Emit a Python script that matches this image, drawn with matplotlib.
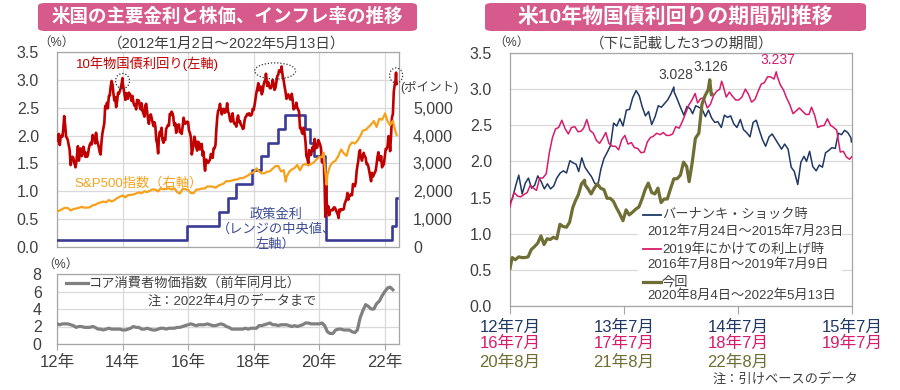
import numpy as np
import pandas as pd
import matplotlib
matplotlib.use('Agg')
import matplotlib.pyplot as plt
import matplotlib.dates as mdates
import matplotlib.transforms as mtransforms
from matplotlib.patches import Ellipse, FancyBboxPatch, Rectangle
from matplotlib.lines import Line2D

plt.rcParams['font.family'] = ['Liberation Sans', 'Noto Sans CJK JP', 'DejaVu Sans']

# ---------------- DATA ----------------
# US 10y yield, three readings per month (around day 1, 11, 21)
y10_2012 = [1.97, 1.90, 2.03, 1.83, 1.98, 2.00, 1.98, 2.12, 2.35, 2.19, 1.98, 1.96,
            1.91, 1.83, 1.74, 1.47, 1.59, 1.62, 1.60, 1.50, 1.47, 1.49, 1.66, 1.81,
            1.55, 1.70, 1.77, 1.63, 1.67, 1.80, 1.72, 1.62, 1.69, 1.62, 1.66, 1.77]
y10_2013 = [1.84, 1.87, 1.84, 2.01, 1.98, 1.96, 1.86, 2.05, 1.92, 1.85, 1.79, 1.70,
            1.66, 1.89, 2.04, 2.13, 2.22, 2.53, 2.49, 2.59, 2.49, 2.71, 2.72, 2.88,
            2.98, 2.91, 2.75, 2.63, 2.69, 2.51, 2.62, 2.77, 2.75, 2.80, 2.85, 2.93]
y10_2014 = [2.96, 2.86, 2.75, 2.64, 2.76, 2.73, 2.66, 2.77, 2.75, 2.72, 2.62, 2.71,
            2.60, 2.54, 2.55, 2.47, 2.64, 2.61, 2.63, 2.52, 2.47, 2.58, 2.44, 2.40,
            2.34, 2.54, 2.57, 2.43, 2.30, 2.21, 2.34, 2.38, 2.31, 2.24, 2.17, 2.24]
y10_2015 = [2.17, 1.92, 1.86, 1.68, 1.99, 2.07, 2.00, 2.14, 1.93, 1.87, 1.95, 1.92,
            2.12, 2.15, 2.19, 2.18, 2.39, 2.37, 2.43, 2.40, 2.33, 2.18, 2.22, 2.05,
            2.17, 2.19, 2.20, 2.06, 2.09, 2.03, 2.16, 2.32, 2.25, 2.21, 2.24, 2.25]
y10_2016 = [2.24, 2.09, 2.05, 1.97, 1.66, 1.75, 1.83, 1.98, 1.92, 1.79, 1.73, 1.89,
            1.87, 1.75, 1.83, 1.85, 1.64, 1.71, 1.46, 1.43, 1.57, 1.52, 1.51, 1.54,
            1.57, 1.67, 1.63, 1.60, 1.77, 1.77, 1.83, 2.12, 2.33, 2.45, 2.47, 2.57]
y10_2017 = [2.45, 2.38, 2.47, 2.48, 2.41, 2.42, 2.46, 2.58, 2.43, 2.39, 2.29, 2.25,
            2.32, 2.40, 2.25, 2.21, 2.21, 2.16, 2.30, 2.36, 2.24, 2.26, 2.19, 2.18,
            2.12, 2.13, 2.27, 2.33, 2.35, 2.39, 2.37, 2.40, 2.36, 2.36, 2.38, 2.48]
y10_2018 = [2.46, 2.55, 2.66, 2.78, 2.85, 2.94, 2.81, 2.87, 2.88, 2.74, 2.79, 2.91,
            2.97, 3.00, 3.06, 2.89, 2.96, 2.90, 2.85, 2.85, 2.89, 3.00, 2.93, 2.82,
            2.86, 2.97, 3.07, 3.09, 3.17, 3.17, 3.14, 3.18, 3.06, 2.99, 2.88, 2.79]
y10_2019 = [2.66, 2.70, 2.74, 2.69, 2.65, 2.65, 2.75, 2.64, 2.47, 2.49, 2.50, 2.59,
            2.50, 2.47, 2.43, 2.13, 2.14, 2.06, 2.03, 2.14, 2.05, 1.89, 1.63, 1.59,
            1.50, 1.74, 1.72, 1.65, 1.73, 1.80, 1.73, 1.94, 1.77, 1.78, 1.79, 1.92]
y10_2020 = [1.88, 1.84, 1.77, 1.52, 1.59, 1.52, 1.13, 0.82, 0.92, 0.62, 0.73, 0.57,
            0.64, 0.66, 0.67, 0.66, 0.71, 0.71, 0.68, 0.64, 0.60, 0.55, 0.67, 0.64,
            0.68, 0.67, 0.67, 0.68, 0.78, 0.82, 0.87, 0.97, 0.85, 0.93, 0.92, 0.95]
y10_2021 = [0.93, 1.13, 1.10, 1.09, 1.16, 1.36, 1.45, 1.54, 1.69, 1.68, 1.62, 1.55,
            1.63, 1.69, 1.63, 1.61, 1.49, 1.49, 1.45, 1.36, 1.28, 1.18, 1.33, 1.26,
            1.30, 1.34, 1.37, 1.48, 1.61, 1.70, 1.57, 1.55, 1.63, 1.43, 1.48, 1.48]
y10_2022 = [1.63, 1.76, 1.76, 1.81, 1.99, 1.93, 1.72, 1.99, 2.32, 2.39, 2.79, 2.91,
            2.99, 2.92]
y10_extra_dates = ['2012-07-24', '2013-12-31', '2015-07-23', '2016-07-08', '2018-05-17',
                   '2018-11-08', '2019-07-09', '2020-03-09', '2020-03-18', '2020-08-04',
                   '2021-03-31', '2022-05-06', '2022-05-13']
y10_extra_vals = [1.43, 3.03, 2.27, 1.37, 3.11, 3.24, 2.07, 0.54, 1.18, 0.52, 1.74, 3.13, 2.93]

# S&P500, value at start of each month
sp_2012 = [1277, 1312, 1366, 1408, 1398, 1310, 1362, 1379, 1407, 1441, 1412, 1416]
sp_2013 = [1426, 1498, 1515, 1569, 1598, 1631, 1606, 1686, 1633, 1682, 1757, 1806]
sp_2014 = [1848, 1783, 1859, 1872, 1884, 1924, 1960, 1931, 2003, 1972, 2018, 2068]
sp_2015 = [2059, 1995, 2105, 2068, 2086, 2107, 2063, 2104, 1972, 1920, 2079, 2080]
sp_2016 = [2044, 1940, 1932, 2060, 2065, 2097, 2099, 2174, 2171, 2168, 2126, 2199]
sp_2017 = [2239, 2279, 2364, 2363, 2384, 2412, 2423, 2470, 2472, 2519, 2575, 2648]
sp_2018 = [2674, 2824, 2714, 2641, 2648, 2705, 2718, 2816, 2902, 2914, 2712, 2760]
sp_2019 = [2507, 2704, 2784, 2834, 2946, 2752, 2942, 2980, 2926, 2977, 3038, 3141]
sp_2020 = [3231, 3226, 2954, 2585, 2912, 3044, 3100, 3271, 3500, 3363, 3270, 3622]
sp_2021 = [3756, 3714, 3811, 3973, 4181, 4204, 4298, 4395, 4523, 4308, 4605, 4567]
sp_2022 = [4766, 4516, 4374, 4530, 4132]
sp_extra_dates = ['2018-12-24', '2020-02-19', '2020-03-23', '2022-01-03', '2022-05-13']
sp_extra_vals = [2351, 3386, 2237, 4797, 4023]

# Fed funds target range midpoint (change dates)
fed_dates = ['2012-01-02', '2015-12-17', '2016-12-15', '2017-03-16', '2017-06-15',
             '2017-12-14', '2018-03-22', '2018-06-14', '2018-09-27', '2018-12-20',
             '2019-08-01', '2019-09-19', '2019-10-31', '2020-03-04', '2020-03-16',
             '2022-03-17', '2022-05-05', '2022-05-13']
fed_vals = [0.125, 0.375, 0.625, 0.875, 1.125, 1.375, 1.625, 1.875, 2.125, 2.375,
            2.125, 1.875, 1.625, 1.125, 0.125, 0.375, 0.875, 0.875]

# Core CPI YoY, monthly
cpi_2012 = [2.3, 2.2, 2.3, 2.3, 2.3, 2.2, 2.1, 1.9, 2.0, 2.0, 1.9, 1.9]
cpi_2013 = [1.9, 2.0, 1.9, 1.7, 1.7, 1.6, 1.7, 1.8, 1.7, 1.7, 1.7, 1.7]
cpi_2014 = [1.6, 1.6, 1.7, 1.8, 2.0, 1.9, 1.9, 1.7, 1.7, 1.8, 1.7, 1.6]
cpi_2015 = [1.6, 1.7, 1.8, 1.8, 1.7, 1.8, 1.8, 1.8, 1.9, 1.9, 2.0, 2.1]
cpi_2016 = [2.2, 2.3, 2.2, 2.1, 2.2, 2.2, 2.2, 2.3, 2.2, 2.1, 2.1, 2.2]
cpi_2017 = [2.3, 2.2, 2.0, 1.9, 1.7, 1.7, 1.7, 1.7, 1.7, 1.8, 1.7, 1.8]
cpi_2018 = [1.8, 1.8, 2.1, 2.1, 2.2, 2.3, 2.4, 2.2, 2.2, 2.1, 2.2, 2.2]
cpi_2019 = [2.2, 2.1, 2.0, 2.1, 2.0, 2.1, 2.2, 2.4, 2.4, 2.3, 2.3, 2.3]
cpi_2020 = [2.3, 2.4, 2.1, 1.4, 1.2, 1.2, 1.6, 1.7, 1.7, 1.6, 1.6, 1.6]
cpi_2021 = [1.4, 1.3, 1.6, 3.0, 3.8, 4.5, 4.3, 4.0, 4.0, 4.6, 4.9, 5.5]
cpi_2022 = [6.0, 6.4, 6.5, 6.2]

# Right chart periods
period_names = ['バーナンキ・ショック時', '2019年にかけての利上げ時', '今回']
period_ranges = ['2012年7月24日～2015年7月23日', '2016年7月8日～2019年7月9日', '2020年8月4日～2022年5月13日']
period_starts = ['2012-07-24', '2016-07-08', '2020-08-04']
period_ends = ['2015-07-23', '2019-07-09', '2022-05-13']
peak_labels = ['3.028', '3.237', '3.126']
xt_labels_a = ['12年7月', '13年7月', '14年7月', '15年7月']
xt_labels_b = ['16年7月', '17年7月', '18年7月', '19年7月']
xt_labels_c = ['20年8月', '21年8月', '22年8月']
left_year_labels = ['12年', '14年', '16年', '18年', '20年', '22年']

# ---------------- BUILD SERIES ----------------
years = list(range(2012, 2023))
y10_dates, y10_vals = [], []
for yr, arr in zip(years, [y10_2012, y10_2013, y10_2014, y10_2015, y10_2016, y10_2017,
                           y10_2018, y10_2019, y10_2020, y10_2021, y10_2022]):
    for i, v in enumerate(arr):
        y10_dates.append(pd.Timestamp(yr, i // 3 + 1, [1, 11, 21][i % 3]))
        y10_vals.append(v)
y10 = pd.concat([pd.Series(y10_vals, index=y10_dates),
                 pd.Series(y10_extra_vals, index=pd.to_datetime(y10_extra_dates))]).sort_index()

sp_dates, sp_vals = [], []
for yr, arr in zip(years, [sp_2012, sp_2013, sp_2014, sp_2015, sp_2016, sp_2017,
                           sp_2018, sp_2019, sp_2020, sp_2021, sp_2022]):
    for i, v in enumerate(arr):
        sp_dates.append(pd.Timestamp(yr, i + 1, 1))
        sp_vals.append(v)
sp = pd.concat([pd.Series(sp_vals, index=sp_dates),
                pd.Series(sp_extra_vals, index=pd.to_datetime(sp_extra_dates))]).sort_index()

cpi_dates, cpi_vals = [], []
for yr, arr in zip(years, [cpi_2012, cpi_2013, cpi_2014, cpi_2015, cpi_2016, cpi_2017,
                           cpi_2018, cpi_2019, cpi_2020, cpi_2021, cpi_2022]):
    for i, v in enumerate(arr):
        cpi_dates.append(pd.Timestamp(yr, i + 1, 1))
        cpi_vals.append(v)

# ---------------- STYLE ----------------
C_RED = '#c00000'
C_ORANGE = '#f7a11a'
C_FED = '#3b3b96'
C_CPI = '#808080'
C_NAVY = '#1f3864'
C_PINK = '#d81b6a'
C_OLIVE = '#6e6e35'
C_TXT = '#404040'
C_GRID = '#d9d9d9'
C_SPINE = '#a6a6a6'
C_TITLE = '#d65a8c'

W, H = 900, 390
def fx(x):
    return x / W
def fy(y):
    return 1 - y / H

fig = plt.figure(figsize=(9, 3.9), dpi=100)

def style_frame(ax):
    for s in ax.spines.values():
        s.set_color(C_SPINE)
        s.set_linewidth(0.9)
    ax.tick_params(colors=C_TXT, labelsize=11.5, length=0)
    ax.tick_params(axis='y', pad=13)

# ---------- Titles ----------
for (x0, x1, title, tx, fs) in [(38, 417, '米国の主要金利と株価、インフレ率の推移', 227, 13.3),
                                 (485, 866, '米10年物国債利回りの期間別推移', 675, 15)]:
    fig.patches.append(FancyBboxPatch((fx(x0), fy(31)), fx(x1 - x0), 28 / H,
                                      boxstyle='round,pad=0,rounding_size=0.008',
                                      transform=fig.transFigure, fc=C_TITLE, ec='none'))
    fig.text(fx(tx), fy(17), title, ha='center', va='center', color='white',
             fontsize=fs, fontweight='bold')

fig.text(fx(227), fy(44), '（2012年1月2日～2022年5月13日）', ha='center', va='center',
         color=C_TXT, fontsize=10.5)
fig.text(fx(682), fy(44), '（下に記載した3つの期間）', ha='center', va='center',
         color=C_TXT, fontsize=10.5)

# ---------- Left top ----------
axL = fig.add_axes([fx(57), fy(247), fx(342), 195 / H])
style_frame(axL)
xmin, xmax = pd.Timestamp('2012-01-01'), pd.Timestamp('2022-06-08')
axL.set_xlim(xmin, xmax)
axL.set_ylim(0, 3.5)
axL.set_yticks(np.arange(0, 3.51, 0.5))
axL.set_yticklabels([f'{v:.1f}' for v in np.arange(0, 3.51, 0.5)])
year_ticks = [pd.Timestamp(y, 1, 1) for y in range(2012, 2023, 2)]
axL.set_xticks(year_ticks)
axL.set_xticklabels([])
axL.grid(True, color=C_GRID, lw=0.9)
axL.set_axisbelow(True)
axL.plot(pd.to_datetime(fed_dates), fed_vals, drawstyle='steps-post', color=C_FED, lw=1.9, zorder=3)
axL.plot(y10.index, y10.values, color=C_RED, lw=1.9, zorder=4)

axL2 = axL.twinx()
axL2.set_ylim(0, 7000)
axL2.set_yticks(np.arange(0, 5001, 1000))
axL2.set_yticklabels([f'{v:,}' for v in range(0, 5001, 1000)])
axL2.tick_params(colors=C_TXT, labelsize=11.5, length=0, pad=10)
for s in axL2.spines.values():
    s.set_visible(False)
axL2.plot(sp.index, sp.values, color=C_ORANGE, lw=1.6, zorder=3)

# dotted ellipses around peaks
for (d, v, w, h) in [('2013-12-31', 2.98, 156, 0.27), ('2018-08-28', 3.16, 456, 0.29),
                     ('2022-05-07', 3.08, 145, 0.27)]:
    axL.add_patch(Ellipse((mdates.date2num(pd.Timestamp(d)), v), w, h, fill=False,
                          ls=(0, (1, 1.5)), ec='#333333', lw=0.9, clip_on=False, zorder=6))

fig.text(fx(147), fy(64), '10年物国債利回り(左軸)', ha='center', va='center', color=C_RED, fontsize=9.5)
fig.text(fx(139), fy(183), 'S&P500指数（右軸）', ha='center', va='center', color=C_ORANGE, fontsize=9.5)
fig.text(fx(276), fy(229), '政策金利\n（レンジの中央値、\n左軸）', ha='center', va='center',
         color='#3c4a96', fontsize=9.5, linespacing=1.25)
fig.text(fx(400), fy(88), '(ポイント)', ha='left', va='center', color=C_TXT, fontsize=9)
fig.text(fx(38), fy(43), '（%）', ha='left', va='center', color=C_TXT, fontsize=9)

# ---------- Left bottom (CPI) ----------
axC = fig.add_axes([fx(57), fy(344), fx(342), 70 / H])
style_frame(axC)
axC.set_xlim(xmin, xmax)
axC.set_ylim(0, 8)
axC.set_yticks([0, 2, 4, 6, 8])
axC.tick_params(axis='y', pad=11)
axC.set_xticks(year_ticks)
axC.set_xticklabels(left_year_labels)
axC.tick_params(axis='x', length=4, direction='out', color=C_SPINE, labelsize=12, pad=4)
axC.grid(True, color=C_GRID, lw=0.9)
axC.set_axisbelow(True)
axC.plot(cpi_dates, cpi_vals, color=C_CPI, lw=2.3, zorder=3)
fig.text(fx(42), fy(265), '（%）', ha='left', va='center', color=C_TXT, fontsize=9)
fig.add_artist(Line2D([fx(66), fx(88)], [fy(283)] * 2, color=C_CPI, lw=2.3, transform=fig.transFigure))
fig.text(fx(89), fy(283), 'コア消費者物価指数（前年同月比）', ha='left', va='center', color=C_TXT, fontsize=9.5)
fig.text(fx(148), fy(301), '注：2022年4月のデータまで', ha='left', va='center', color=C_TXT, fontsize=9.5)

# ---------- Right chart ----------
axR = fig.add_axes([fx(510), fy(306), fx(342), 253 / H])
style_frame(axR)
axR.set_xlim(0, 3)
axR.set_ylim(0, 3.5)
axR.set_yticks(np.arange(0, 3.51, 0.5))
axR.set_yticklabels([f'{v:.1f}' for v in np.arange(0, 3.51, 0.5)])
axR.set_xticks([0, 1, 2, 3])
axR.set_xticklabels([])
axR.tick_params(axis='x', length=6, direction='out', color=C_SPINE)
axR.grid(True, axis='y', color=C_GRID, lw=0.9)
axR.set_axisbelow(True)

colors_r = [C_NAVY, C_PINK, C_OLIVE]
widths_r = [1.1, 1.1, 2.3]
for st, en, c, lw in zip(period_starts, period_ends, colors_r, widths_r):
    s = y10[(y10.index >= pd.Timestamp(st)) & (y10.index <= pd.Timestamp(en))]
    xx = (s.index - pd.Timestamp(st)).days / 365.25
    axR.plot(xx, s.values, color=c, lw=lw, zorder=3)

# peak labels
fig.text(fx(676), fy(75), peak_labels[0], ha='center', va='center', color=C_TXT, fontsize=10)
fig.text(fx(711), fy(67), peak_labels[2], ha='center', va='center', color=C_TXT, fontsize=10)
fig.text(fx(778), fy(60), peak_labels[1], ha='center', va='center', color=C_PINK, fontsize=10)

# legend box
axR.add_patch(Rectangle(((638 - 510) / 342, 3 / 253), (842 - 638) / 342, 98 / 253,
                        transform=axR.transAxes, fc='white', ec='none', zorder=1.8))
leg_y = [(215, 232), (249, 265), (282, 296)]
for (yl, yr2), c, lw, nm, rg in zip(leg_y, colors_r, widths_r, period_names, period_ranges):
    fig.add_artist(Line2D([fx(643), fx(661)], [fy(yl)] * 2, color=c, lw=max(lw, 1.3),
                          transform=fig.transFigure))
    fig.text(fx(662), fy(yl), nm, ha='left', va='center', color=C_TXT, fontsize=9.5)
    fig.text(fx(647), fy(yr2), rg, ha='left', va='center', color=C_TXT, fontsize=9.5)

fig.text(fx(493), fy(43), '（%）', ha='left', va='center', color=C_TXT, fontsize=9)

# multi-colour x tick labels
tr = mtransforms.blended_transform_factory(axR.transData, fig.transFigure)
for labs, c, yy in [(xt_labels_a, C_NAVY, 327), (xt_labels_b, C_PINK, 343), (xt_labels_c, C_OLIVE, 362)]:
    for i, lab in enumerate(labs):
        axR.text(i, fy(yy), lab, transform=tr, ha='center', va='center', color=c, fontsize=12)
fig.text(fx(713), fy(379), '注：引けベースのデータ', ha='left', va='center', color=C_TXT, fontsize=9.5)

fig.savefig('out.png', dpi=100)
